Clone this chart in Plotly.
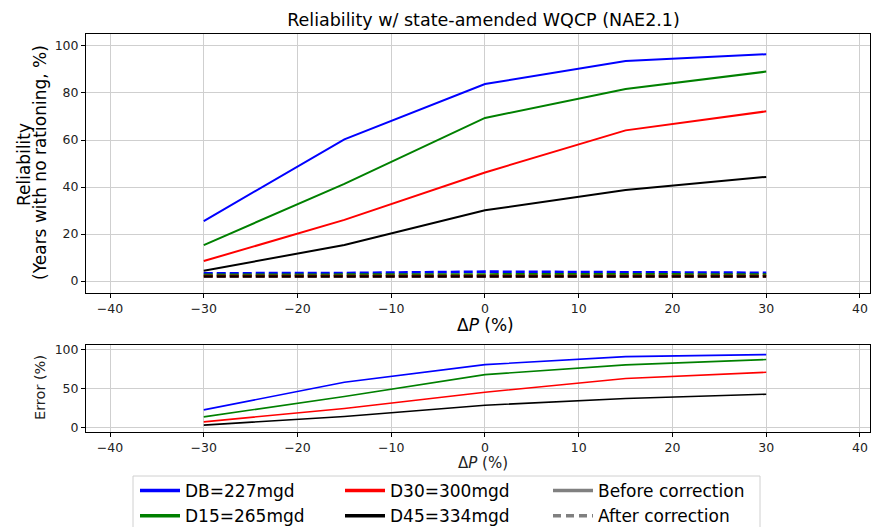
import plotly.graph_objects as go

W, H = 872, 527

dp = [-30, -15, 0, 15, 30]
designs = ["DB=227mgd", "D15=265mgd", "D30=300mgd", "D45=334mgd"]
colors = ["blue", "green", "red", "black"]

# Reliability before correction (solid)
rel_before = {
    "DB=227mgd": [25.5, 60.3, 83.8, 93.6, 96.5],
    "D15=265mgd": [15.3, 41.3, 69.4, 81.7, 89.1],
    "D30=300mgd": [8.5, 26.0, 46.2, 64.1, 72.2],
    "D45=334mgd": [4.4, 15.3, 30.1, 38.7, 44.3],
}
# Reliability after correction (dashed)
rel_after = {
    "DB=227mgd": [3.3, 3.4, 4.0, 3.9, 3.5],
    "D15=265mgd": [2.6, 2.7, 3.0, 2.9, 2.7],
    "D30=300mgd": [2.1, 2.1, 2.3, 2.2, 2.1],
    "D45=334mgd": [1.9, 1.9, 2.2, 2.1, 1.9],
}
# Error (%)
error = {
    "DB=227mgd": [22.2, 57.7, 80.3, 90.6, 93.2],
    "D15=265mgd": [13.2, 39.3, 67.5, 80.0, 86.8],
    "D30=300mgd": [6.8, 24.0, 44.9, 62.4, 70.5],
    "D45=334mgd": [2.6, 13.7, 28.2, 36.8, 42.3],
}

xticks = [-40, -30, -20, -10, 0, 10, 20, 30, 40]
yticks_top = [0, 20, 40, 60, 80, 100]
yticks_bot = [0, 50, 100]

FONT = "DejaVu Sans"
DASH = "9px,4px"

def px_y(p):
    return 1 - p / H

def px_x(p):
    return p / W

fig = go.Figure()

legend_of = {"DB=227mgd": "legend", "D15=265mgd": "legend",
             "D30=300mgd": "legend2", "D45=334mgd": "legend2"}

for name, c in zip(designs, colors):
    fig.add_trace(go.Scatter(x=dp, y=rel_before[name], mode="lines",
                             line=dict(color=c, width=2), name=name,
                             showlegend=False, xaxis="x", yaxis="y"))
    fig.add_trace(go.Scatter(x=dp, y=rel_after[name], mode="lines",
                             line=dict(color=c, width=2.6, dash=DASH),
                             showlegend=False, xaxis="x", yaxis="y"))
for name, c in zip(designs, colors):
    fig.add_trace(go.Scatter(x=dp, y=error[name], mode="lines",
                             line=dict(color=c, width=1.6),
                             showlegend=False, xaxis="x2", yaxis="y2"))

# legend entries (thicker handles as in the reference)
for name, c in zip(designs, colors):
    fig.add_trace(go.Scatter(x=[None], y=[None], mode="lines",
                             line=dict(color=c, width=3.5), name=name,
                             legend=legend_of[name], xaxis="x", yaxis="y"))
fig.add_trace(go.Scatter(x=[None], y=[None], mode="lines",
                         line=dict(color="gray", width=3.5),
                         name="Before correction", legend="legend3",
                         xaxis="x", yaxis="y"))
fig.add_trace(go.Scatter(x=[None], y=[None], mode="lines",
                         line=dict(color="gray", width=3.5, dash="8px,5px"),
                         name="After correction", legend="legend3",
                         xaxis="x", yaxis="y"))

xrange_ = [-42.56, 41.07]
axis_common = dict(showgrid=True, gridcolor="#cfcfcf", gridwidth=1,
                   showline=True, linecolor="black", linewidth=1, mirror=True,
                   ticks="outside", ticklen=4, tickcolor="black",
                   automargin=False, zeroline=False,
                   tickfont=dict(family=FONT, size=12.5, color="#222"))

leg_common = dict(yanchor="top", xanchor="left", bgcolor="rgba(0,0,0,0)",
                  font=dict(family=FONT, size=17), orientation="v",
                  tracegroupgap=0, itemwidth=40)

fig.update_layout(
    width=W, height=H,
    margin=dict(l=0, r=0, t=0, b=0, autoexpand=False),
    paper_bgcolor="white", plot_bgcolor="white",
    font=dict(family=FONT, color="black"),
    title=dict(text="Reliability w/ state-amended WQCP (NAE2.1)",
               x=px_x(483.5), xanchor="center", xref="paper",
               y=px_y(20), yanchor="middle", yref="paper",
               font=dict(family=FONT, size=17.5, color="black")),
    xaxis=dict(domain=[px_x(86), px_x(870)], range=xrange_, tickvals=xticks,
               anchor="y", **axis_common),
    yaxis=dict(domain=[px_y(293), px_y(34)], range=[-5.1, 105.1],
               tickvals=yticks_top, anchor="x", **axis_common),
    xaxis2=dict(domain=[px_x(86), px_x(870)], range=xrange_, tickvals=xticks,
                anchor="y2", **axis_common),
    yaxis2=dict(domain=[px_y(431.5), px_y(345)], range=[-5.6, 105.5],
                tickvals=yticks_bot, anchor="x2", **axis_common),
    legend=dict(x=px_x(135), y=px_y(473), **leg_common),
    legend2=dict(x=px_x(340), y=px_y(473), **leg_common),
    legend3=dict(x=px_x(548), y=px_y(473), **leg_common),
    shapes=[dict(type="rect", xref="paper", yref="paper",
                 x0=px_x(133), x1=px_x(760), y0=px_y(540), y1=px_y(476),
                 line=dict(color="#d0d0d0", width=1), fillcolor="white",
                 layer="below")],
    annotations=[
        dict(text="Reliability", x=px_x(24), y=px_y(165), xref="paper", yref="paper",
             textangle=-90, showarrow=False, xanchor="center", yanchor="middle",
             font=dict(family=FONT, size=17, color="black")),
        dict(text="(Years with no rationing, %)", x=px_x(40), y=px_y(163),
             xref="paper", yref="paper", textangle=-90, showarrow=False,
             xanchor="center", yanchor="middle",
             font=dict(family=FONT, size=17, color="black")),
        dict(text="Δ<i>P</i> (%)", x=px_x(485), y=px_y(325), xref="paper",
             yref="paper", showarrow=False, xanchor="center", yanchor="middle",
             font=dict(family=FONT, size=17, color="black")),
        dict(text="Error (%)", x=px_x(40), y=px_y(388), xref="paper", yref="paper",
             textangle=-90, showarrow=False, xanchor="center", yanchor="middle",
             font=dict(family=FONT, size=14.5, color="#222")),
        dict(text="Δ<i>P</i> (%)", x=px_x(483), y=px_y(463), xref="paper",
             yref="paper", showarrow=False, xanchor="center", yanchor="middle",
             font=dict(family=FONT, size=15, color="#222")),
    ],
)

fig.write_html(
    "out.html",
    config={"displayModeBar": False},
    post_script="document.body.style.margin='0';document.body.style.padding='0';"
                "document.body.style.overflow='hidden';",
)
